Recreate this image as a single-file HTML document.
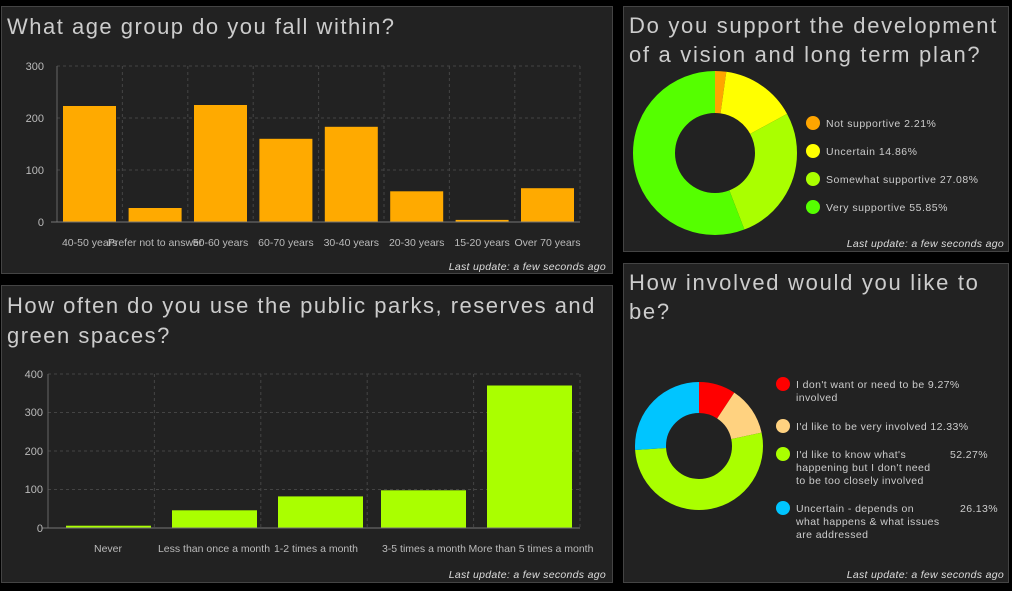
<!DOCTYPE html><html><head><style>
body{margin:0;background:#000;width:1012px;height:586px;overflow:hidden;font-family:"Liberation Sans",sans-serif}
svg text{font-family:"Liberation Sans",sans-serif}
</style></head><body>
<svg width="1012" height="586" xmlns="http://www.w3.org/2000/svg">
<rect width="1012" height="586" fill="#000"/>
<g fill="#222" stroke="#444">
<rect x="1.5" y="6.5" width="611" height="267"/>
<rect x="1.5" y="285.5" width="611" height="297"/>
<rect x="623.5" y="6.5" width="385" height="245"/>
<rect x="623.5" y="263.5" width="385" height="319"/>
</g>
<g fill="#ccc" font-size="22" font-weight="300" letter-spacing="1.5">
<text x="7" y="34">What age group do you fall within?</text>
<text x="7" y="313">How often do you use the public parks, reserves and</text>
<text x="7" y="343">green spaces?</text>
</g>
<g fill="#ccc" font-size="22" font-weight="300" letter-spacing="1.7">
<text x="629" y="33">Do you support the development</text>
<text x="629" y="62">of a vision and long term plan?</text>
<text x="629" y="290">How involved would you like to</text>
<text x="629" y="319">be?</text>
</g>
<g fill="#ddd" font-size="10.5" font-style="italic" text-anchor="end" letter-spacing="0.3">
<text x="606" y="270">Last update: a few seconds ago</text>
<text x="606" y="578">Last update: a few seconds ago</text>
<text x="1004" y="247">Last update: a few seconds ago</text>
<text x="1004" y="578">Last update: a few seconds ago</text>
</g>
<!-- chart 1 -->
<g stroke="#444" stroke-dasharray="3,3">
<line x1="57" y1="66" x2="580" y2="66"/><line x1="57" y1="118" x2="580" y2="118"/><line x1="57" y1="170" x2="580" y2="170"/>
<line x1="122.4" y1="66" x2="122.4" y2="222"/><line x1="187.8" y1="66" x2="187.8" y2="222"/><line x1="253.2" y1="66" x2="253.2" y2="222"/><line x1="318.6" y1="66" x2="318.6" y2="222"/><line x1="384" y1="66" x2="384" y2="222"/><line x1="449.4" y1="66" x2="449.4" y2="222"/><line x1="514.8" y1="66" x2="514.8" y2="222"/><line x1="580" y1="66" x2="580" y2="222"/>
</g>
<g fill="#ffaa00">
<rect x="63" y="106" width="53" height="116"/><rect x="128.6" y="208" width="53" height="14"/><rect x="194" y="105" width="53" height="117"/><rect x="259.4" y="138.8" width="53" height="83.2"/><rect x="324.8" y="126.8" width="53" height="95.2"/><rect x="390.2" y="191.3" width="53" height="30.7"/><rect x="455.6" y="219.9" width="53" height="2.1"/><rect x="521" y="188.2" width="53" height="33.8"/>
</g>
<line x1="57" y1="66" x2="57" y2="222" stroke="#666"/><line x1="51" y1="222" x2="580" y2="222" stroke="#777"/>
<g fill="#bbb" font-size="11" text-anchor="end"><text x="44" y="70">300</text><text x="44" y="122">200</text><text x="44" y="174">100</text><text x="44" y="226">0</text></g>
<g fill="#bbb" font-size="10.5" text-anchor="middle">
<text x="89.7" y="246">40-50 years</text><text x="155.1" y="246">Prefer not to answer</text><text x="220.5" y="246">50-60 years</text><text x="285.9" y="246">60-70 years</text><text x="351.3" y="246">30-40 years</text><text x="416.7" y="246">20-30 years</text><text x="482.1" y="246">15-20 years</text><text x="547.5" y="246">Over 70 years</text>
</g>
<!-- chart 2 -->
<g stroke="#444" stroke-dasharray="3,3">
<line x1="48" y1="374" x2="580" y2="374"/><line x1="48" y1="412.5" x2="580" y2="412.5"/><line x1="48" y1="451" x2="580" y2="451"/><line x1="48" y1="489.5" x2="580" y2="489.5"/>
<line x1="154.4" y1="374" x2="154.4" y2="528"/><line x1="260.8" y1="374" x2="260.8" y2="528"/><line x1="367.2" y1="374" x2="367.2" y2="528"/><line x1="473.6" y1="374" x2="473.6" y2="528"/><line x1="580" y1="374" x2="580" y2="528"/>
</g>
<g fill="#aaff00">
<rect x="66" y="525.7" width="85" height="2.3"/><rect x="172" y="510.3" width="85" height="17.7"/><rect x="278" y="496.4" width="85" height="31.6"/><rect x="381" y="490.3" width="85" height="37.7"/><rect x="487" y="385.5" width="85" height="142.5"/>
</g>
<line x1="48" y1="374" x2="48" y2="528" stroke="#666"/><line x1="42" y1="528" x2="580" y2="528" stroke="#777"/>
<g fill="#bbb" font-size="11" text-anchor="end"><text x="43" y="378">400</text><text x="43" y="416">300</text><text x="43" y="455">200</text><text x="43" y="493">100</text><text x="43" y="532">0</text></g>
<g fill="#bbb" font-size="10.5" text-anchor="middle">
<text x="108" y="552">Never</text><text x="214" y="552">Less than once a month</text><text x="316" y="552">1-2 times a month</text><text x="424" y="552">3-5 times a month</text><text x="531" y="552">More than 5 times a month</text>
</g>
<!-- donut 1 -->
<g transform="rotate(-90 715 153)" fill="none" stroke-width="42">
<circle cx="715" cy="153" r="61" stroke="#ffa500" stroke-dasharray="8.47 400"/>
<circle cx="715" cy="153" r="61" stroke="#ffff00" stroke-dasharray="56.95 400" stroke-dashoffset="-8.47"/>
<circle cx="715" cy="153" r="61" stroke="#aaff00" stroke-dasharray="103.79 400" stroke-dashoffset="-65.42"/>
<circle cx="715" cy="153" r="61" stroke="#55ff00" stroke-dasharray="214.06 400" stroke-dashoffset="-169.21"/>
</g>
<circle cx="813" cy="123" r="7" fill="#ffa500"/><circle cx="813" cy="151" r="7" fill="#ffff00"/><circle cx="813" cy="179" r="7" fill="#aaff00"/><circle cx="813" cy="207" r="7" fill="#55ff00"/>
<g fill="#ccc" font-size="10.5" letter-spacing="0.5"><text x="826" y="127">Not supportive  2.21%</text><text x="826" y="155">Uncertain  14.86%</text><text x="826" y="183">Somewhat supportive  27.08%</text><text x="826" y="211">Very supportive  55.85%</text></g>
<!-- donut 2 -->
<g transform="rotate(-90 699 446)" fill="none" stroke-width="31">
<circle cx="699" cy="446" r="48.5" stroke="#ff0000" stroke-dasharray="28.25 400"/>
<circle cx="699" cy="446" r="48.5" stroke="#ffd280" stroke-dasharray="37.57 400" stroke-dashoffset="-28.25"/>
<circle cx="699" cy="446" r="48.5" stroke="#aaff00" stroke-dasharray="159.28 400" stroke-dashoffset="-65.82"/>
<circle cx="699" cy="446" r="48.5" stroke="#00c5ff" stroke-dasharray="79.63 400" stroke-dashoffset="-225.10"/>
</g>
<circle cx="783" cy="384" r="7" fill="#ff0000"/><circle cx="783" cy="426" r="7" fill="#ffd280"/><circle cx="783" cy="454" r="7" fill="#aaff00"/><circle cx="783" cy="508" r="7" fill="#00c5ff"/>
<g fill="#ccc" font-size="10.5" letter-spacing="0.4">
<text x="796" y="388">I don't want or need to be  9.27%</text><text x="796" y="401">involved</text>
<text x="796" y="430">I'd like to be very involved  12.33%</text>
<text x="796" y="458">I'd like to know what's</text><text x="950" y="458">52.27%</text><text x="796" y="471">happening but I don't need</text><text x="796" y="484">to be too closely involved</text>
<text x="796" y="512">Uncertain - depends on</text><text x="960" y="512">26.13%</text><text x="796" y="525">what happens &amp; what issues</text><text x="796" y="538">are addressed</text>
</g>
</svg>
</body></html>
